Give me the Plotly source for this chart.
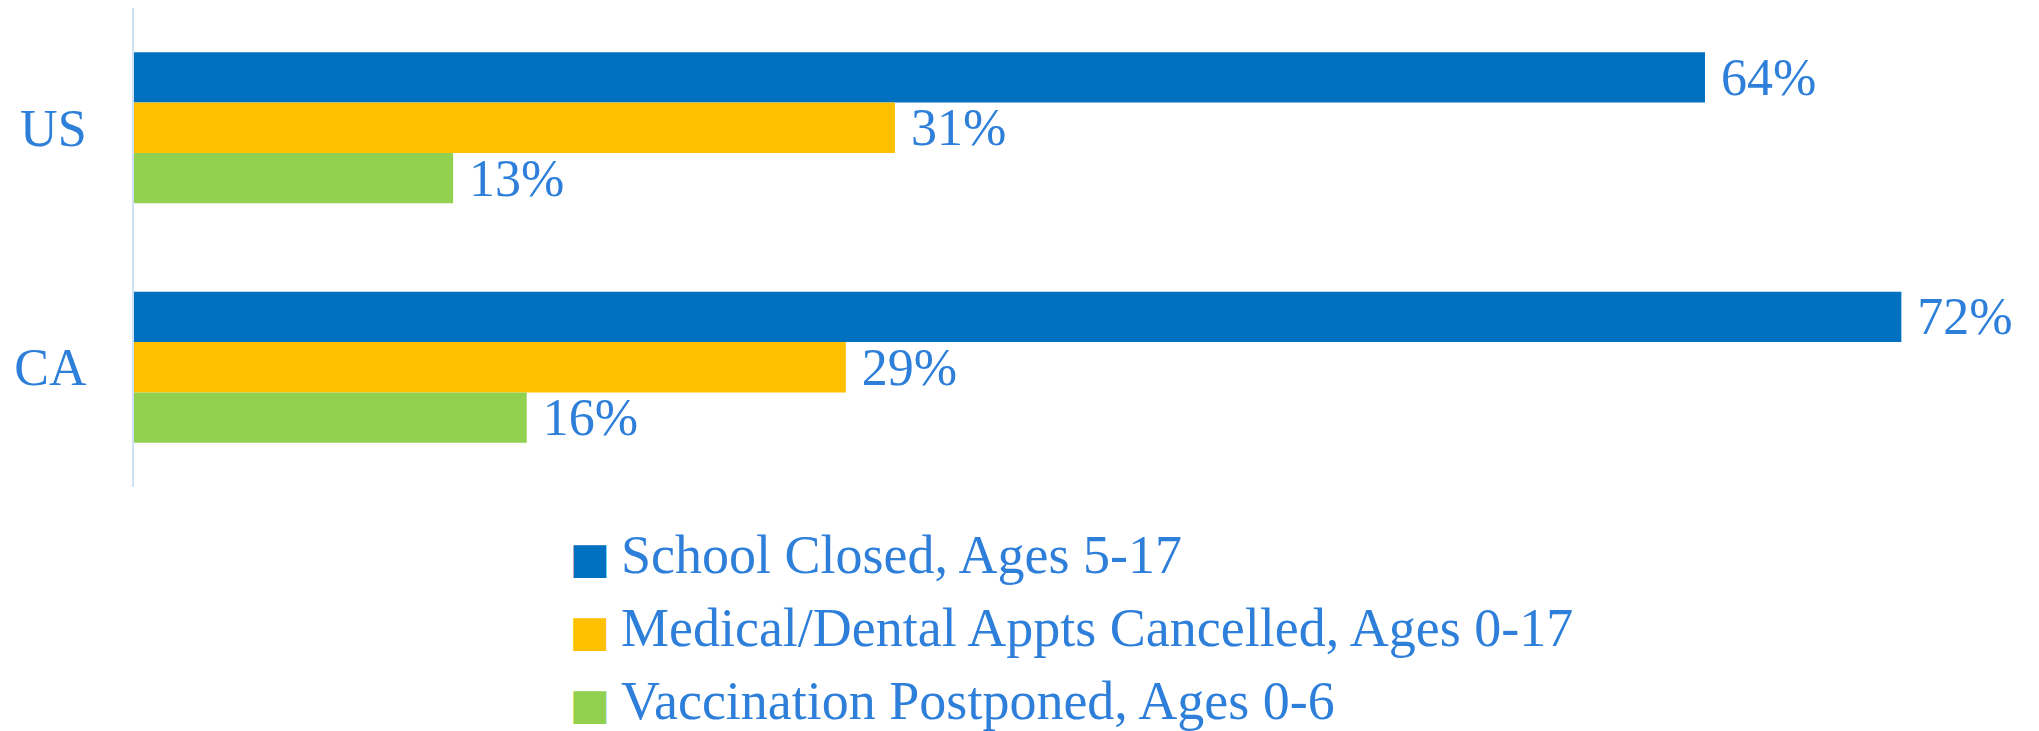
import plotly.graph_objects as go

categories = ["US", "CA"]
series_names = [
    "School Closed, Ages 5-17",
    "Medical/Dental Appts Cancelled, Ages 0-17",
    "Vaccination Postponed, Ages 0-6",
]
school_closed = [64, 72]
medical_cancelled = [31, 29]
vaccination_postponed = [13, 16]
colors = ["#0070C0", "#FFC000", "#92D050"]

TEXT_COLOR = "#2E7FD9"
FONT = "Liberation Serif, Times New Roman, serif"

fig = go.Figure()
for name, vals, col in zip(series_names, [school_closed, medical_cancelled, vaccination_postponed], colors):
    fig.add_trace(go.Bar(
        y=categories, x=vals, orientation="h", marker_color=col, marker_line_width=0,
        texttemplate=" %{x}%", textposition="outside", constraintext="none", cliponaxis=False,
        textfont=dict(family=FONT, size=52, color=TEXT_COLOR),
        showlegend=False, hoverinfo="skip",
    ))
for i, (name, col) in enumerate(zip(series_names, colors)):
    fig.add_trace(go.Scatter(
        x=[None], y=[None], mode="markers",
        marker=dict(color="rgba(0,0,0,0)", size=1),
        name=f"<span style='color:{col};font-family:DejaVu Sans;font-size:43px'>■</span>\u2009{name}",
        legendgroup=f"g{i}", showlegend=True,
    ))

fig.update_layout(
    width=2039, height=731,
    margin=dict(l=134, r=10, t=8, b=244, autoexpand=False),
    paper_bgcolor="white", plot_bgcolor="white",
    barmode="group", bargap=0.37, bargroupgap=0,
    font=dict(family=FONT, size=52, color=TEXT_COLOR),
    xaxis=dict(range=[0, 77.2], showgrid=False, zeroline=False, showticklabels=False, showline=False),
    yaxis=dict(categoryorder="array", categoryarray=categories, autorange="reversed",
               showline=True, linecolor="#CFE1F5", linewidth=2, showgrid=False, zeroline=False,
               automargin=False,
               ticklabelstandoff=35, tickfont=dict(family=FONT, size=52, color=TEXT_COLOR)),
    legend=dict(orientation="v", x=0.2087, xanchor="left", y=-0.048, yanchor="top",
                font=dict(family=FONT, size=54, color=TEXT_COLOR), tracegroupgap=0,
                bgcolor="rgba(0,0,0,0)", itemclick=False),
)
fig.write_html("out.html", config={"displayModeBar": False},
               post_script="document.body.style.margin='0';")
